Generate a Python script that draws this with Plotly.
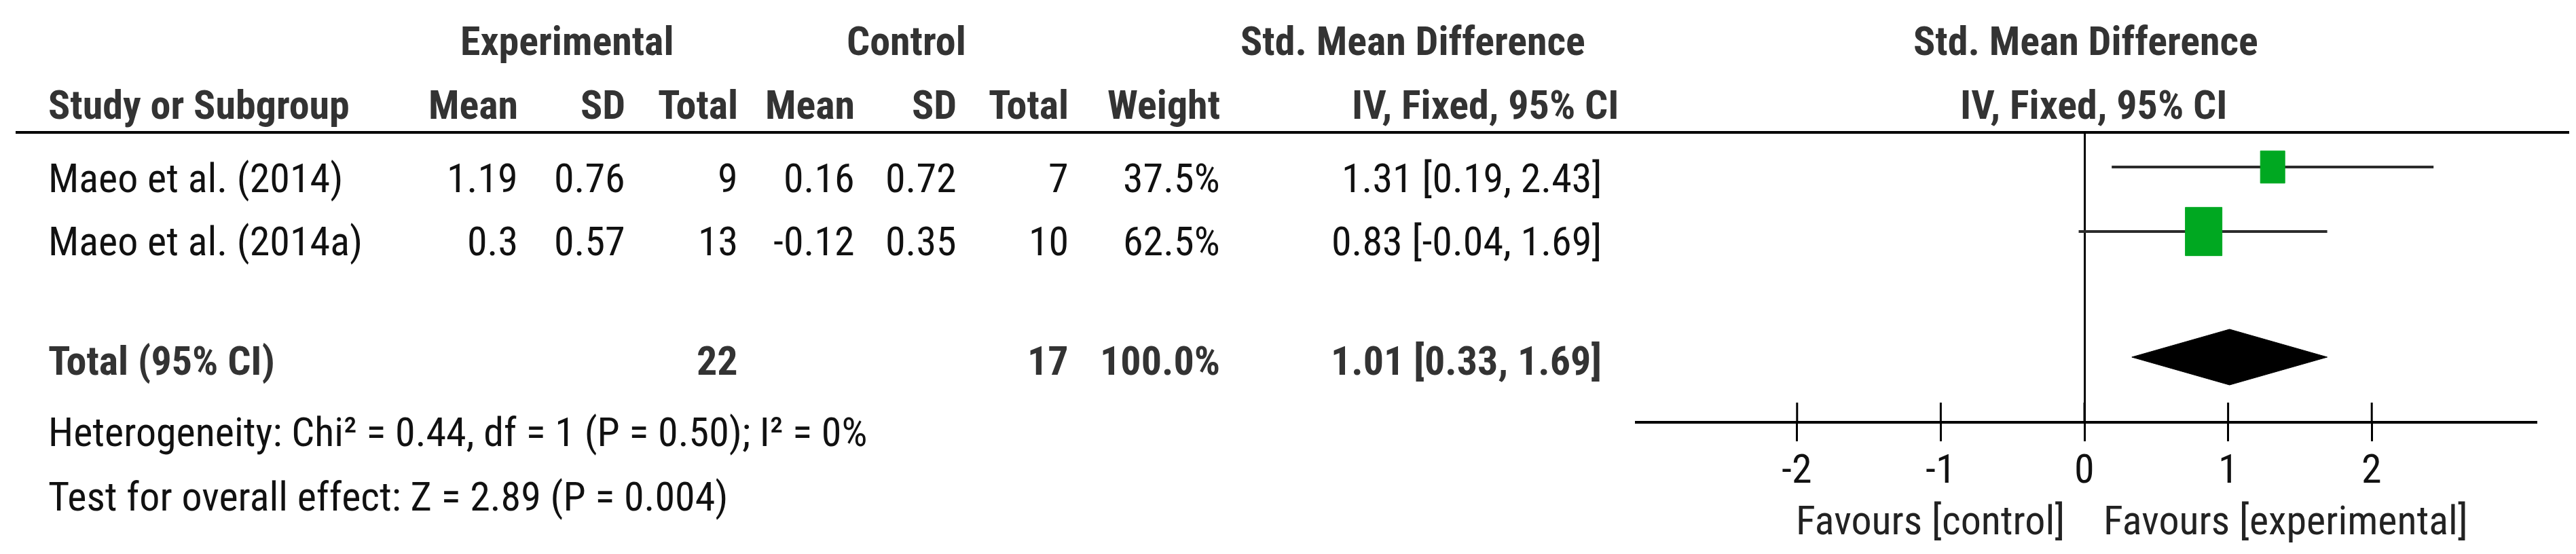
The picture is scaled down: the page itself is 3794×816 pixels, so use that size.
import plotly.graph_objects as go

# ---------------- data ----------------
studies = ["Maeo et al. (2014)", "Maeo et al. (2014a)"]
exp_mean = [1.19, 0.3]
exp_sd = [0.76, 0.57]
exp_n = [9, 13]
ctrl_mean = [0.16, -0.12]
ctrl_sd = [0.72, 0.35]
ctrl_n = [7, 10]
weight = [37.5, 62.5]
smd = [1.31, 0.83]
ci_low = [0.19, -0.04]
ci_high = [2.43, 1.69]

total_label = "Total (95% CI)"
total_exp_n = 22
total_ctrl_n = 17
total_weight = 100.0
pooled = 1.01
pooled_low = 0.33
pooled_high = 1.69
heterogeneity = "Heterogeneity: Chi² = 0.44, df = 1 (P = 0.50); I² = 0%"
overall_effect = "Test for overall effect: Z = 2.89 (P = 0.004)"

tick_vals = [-2, -1, 0, 1, 2]
tick_text = ["-2", "-1", "0", "1", "2"]
favours = ["Favours [control]", "Favours [experimental]"]

# ---------------- layout constants (pixels) ----------------
W, H = 3794, 816
FONT = "Roboto Condensed, Liberation Sans Narrow, Liberation Sans, Arial, sans-serif"
FS = 60
X_ZERO = 3062
UNIT = 211.6
AXIS_L, AXIS_R = 2400, 3729
AXIS_Y = 612
HEAD_LINE_Y = 187
row_mark_y = [238, 333]
row_text_y = [254, 347]
total_mark_y = 518
total_text_y = 523
GREEN = "#00A821"

fig = go.Figure()

# CI lines
for i in range(len(studies)):
    fig.add_trace(go.Scatter(x=[ci_low[i], ci_high[i]], y=[row_mark_y[i]] * 2,
                             mode="lines", line=dict(color="#2b2b2b", width=4),
                             hoverinfo="skip"))
# weighted boxes
for i in range(len(studies)):
    hw = 0.36 * weight[i] + 4.5      # half width in px
    hh = 1.32 * hw                   # half height in px
    dx = hw / UNIT
    x0, x1 = smd[i] - dx, smd[i] + dx
    y0, y1 = row_mark_y[i] - hh, row_mark_y[i] + hh
    fig.add_trace(go.Scatter(x=[x0, x1, x1, x0, x0], y=[y0, y0, y1, y1, y0],
                             mode="lines", fill="toself", fillcolor=GREEN,
                             line=dict(color=GREEN, width=1), hoverinfo="skip"))
# diamond
fig.add_trace(go.Scatter(x=[pooled_low, pooled, pooled_high, pooled, pooled_low],
                         y=[total_mark_y, total_mark_y - 41, total_mark_y,
                            total_mark_y + 41, total_mark_y],
                         mode="lines", fill="toself", fillcolor="black",
                         line=dict(color="black", width=1), hoverinfo="skip"))
# upper halves of tick marks
tx, ty = [], []
for t in tick_vals:
    tx += [t, t, None]
    ty += [AXIS_Y, AXIS_Y - 27, None]
fig.add_trace(go.Scatter(x=tx, y=ty, mode="lines",
                         line=dict(color="black", width=3), hoverinfo="skip"))

# ---------------- text ----------------
def txt(s, x, y, anchor, bold=False, color="#111111", xref="paper"):
    xx = x / W if xref == "paper" else x
    fig.add_annotation(text=f"<b>{s}</b>" if bold else s,
                       x=xx, y=1 - y / H, xref=xref, yref="paper",
                       xanchor=anchor, yanchor="middle", showarrow=False,
                       borderpad=0,
                       font=dict(family=FONT, size=FS, color=color))

HC = "#333333"
# header row 1
txt("Experimental", 827, 52, "center", True, HC)
txt("Control", 1327, 52, "center", True, HC)
txt("Std. Mean Difference", 2073, 52, "center", True, HC)
txt("Std. Mean Difference", 3064, 52, "center", True, HC)
# header row 2
hy = 146
txt("Study or Subgroup", 62, hy, "left", True, HC)
txt("Mean", 756, hy, "right", True, HC)
txt("SD", 914, hy, "right", True, HC)
txt("Total", 1080, hy, "right", True, HC)
txt("Mean", 1252, hy, "right", True, HC)
txt("SD", 1402, hy, "right", True, HC)
txt("Total", 1567, hy, "right", True, HC)
txt("Weight", 1790, hy, "right", True, HC)
txt("IV, Fixed, 95% CI", 2377, hy, "right", True, HC)
txt("IV, Fixed, 95% CI", 3075, hy, "center", True, HC)

# study rows
for i, s in enumerate(studies):
    y = row_text_y[i]
    txt(s, 62, y, "left")
    txt(str(exp_mean[i]), 756, y, "right")
    txt(str(exp_sd[i]), 914, y, "right")
    txt(str(exp_n[i]), 1080, y, "right")
    txt(str(ctrl_mean[i]), 1252, y, "right")
    txt(str(ctrl_sd[i]), 1402, y, "right")
    txt(str(ctrl_n[i]), 1567, y, "right")
    txt(f"{weight[i]:.1f}%", 1790, y, "right")
    txt(f"{smd[i]:.2f} [{ci_low[i]:.2f}, {ci_high[i]:.2f}]", 2352, y, "right")

# total row
txt(total_label, 62, total_text_y, "left", True, HC)
txt(str(total_exp_n), 1080, total_text_y, "right", True, HC)
txt(str(total_ctrl_n), 1567, total_text_y, "right", True, HC)
txt(f"{total_weight:.1f}%", 1790, total_text_y, "right", True, HC)
txt(f"{pooled:.2f} [{pooled_low:.2f}, {pooled_high:.2f}]", 2352, total_text_y, "right", True, HC)

txt(heterogeneity, 62, 628, "left")
txt(overall_effect, 62, 723, "left")

# tick labels on the axis scale
for v, t in zip(tick_vals, tick_text):
    txt(t, v, 682, "center", xref="x")

txt(favours[0], 3034, 758, "right", False, "#222222")
txt(favours[1], 3089, 758, "left", False, "#222222")

# header rule
fig.add_shape(type="line", xref="paper", yref="paper",
              x0=15 / W, x1=3776 / W, y0=1 - HEAD_LINE_Y / H, y1=1 - HEAD_LINE_Y / H,
              line=dict(color="black", width=4))

fig.update_layout(
    width=W, height=H, margin=dict(l=0, r=0, t=0, b=0),
    paper_bgcolor="white", plot_bgcolor="rgba(0,0,0,0)", showlegend=False,
    xaxis=dict(domain=[AXIS_L / W, AXIS_R / W],
               range=[(AXIS_L - X_ZERO) / UNIT, (AXIS_R - X_ZERO) / UNIT],
               showline=True, linecolor="black", linewidth=4,
               ticks="outside", ticklen=26, tickwidth=3, tickcolor="black",
               tickvals=tick_vals, showticklabels=False,
               showgrid=False, zeroline=True, zerolinecolor="black", zerolinewidth=3,
               fixedrange=True),
    yaxis=dict(domain=[1 - AXIS_Y / H, 1 - HEAD_LINE_Y / H],
               range=[AXIS_Y, HEAD_LINE_Y], visible=False, fixedrange=True),
)

fig.write_html("out.html")
